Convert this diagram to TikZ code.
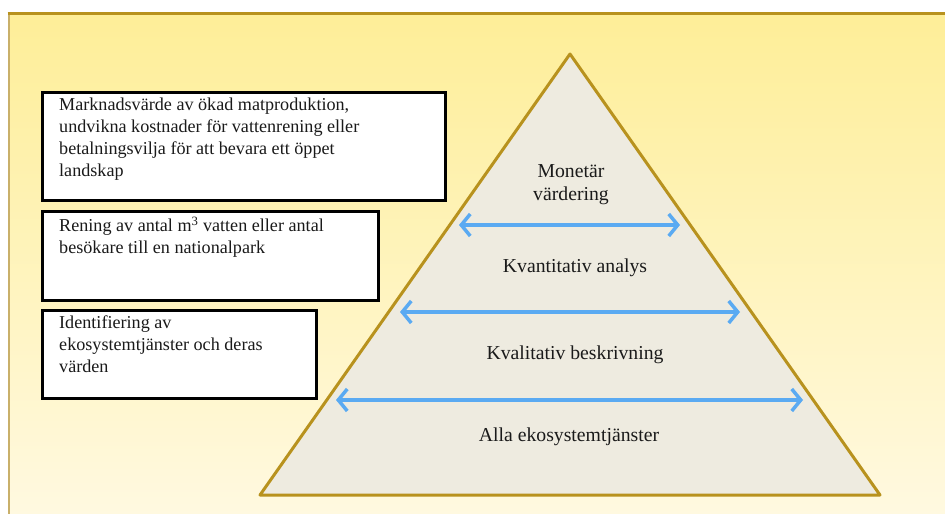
\documentclass[tikz,border=0pt]{standalone}
\usepackage{fontspec}
\setmainfont{Liberation Serif}
\usetikzlibrary{arrows.meta}
\definecolor{bgtop}{HTML}{FEEE98}
\definecolor{bgbot}{HTML}{FFF9E0}
\definecolor{gold}{HTML}{B8921E}
\definecolor{goldlight}{HTML}{C9B06A}
\definecolor{pyrfill}{HTML}{EEEBE0}
\definecolor{arrowblue}{HTML}{5AAAF2}
\definecolor{inktext}{HTML}{1A1A1A}
\tikzset{
  infotext/.style={anchor=north west, align=left, inner sep=0pt, text=inktext, font=\fontsize{18.2}{22}\selectfont},
  pyrlabel/.style={align=center, inner sep=0pt, text=inktext, font=\fontsize{19.8}{23}\selectfont},
  levelarrow/.style={draw=arrowblue, line width=3.5bp, line cap=round,
    {Straight Barb[length=9bp,width=22bp,line width=3.5bp]}-{Straight Barb[length=9bp,width=22bp,line width=3.5bp]}}
}
\begin{document}
\begin{tikzpicture}[x=1bp,y=-1bp]
\useasboundingbox (0,0) rectangle (945,514);
\fill[white] (0,0) rectangle (945,514);
% background panel
\shade[top color=bgtop, bottom color=bgbot] (8,14) rectangle (945,514);
\draw[goldlight, line width=2bp] (8.5,14) -- (8.5,514);
\draw[gold, line width=3bp] (7.5,13.5) -- (945,13.5);
% pyramid
\coordinate (apex) at (570,54);
\coordinate (bl) at (260,495);
\coordinate (br) at (880,495);
\filldraw[fill=pyrfill, draw=gold, line width=3bp, line join=round] (apex) -- (bl) -- (br) -- cycle;
% level arrows
\coordinate (a1l) at (459,225); \coordinate (a1r) at (680,225);
\coordinate (a2l) at (400,312); \coordinate (a2r) at (740,312);
\coordinate (a3l) at (336,400); \coordinate (a3r) at (803,400);
\draw[levelarrow] (a1l) -- (a1r);
\draw[levelarrow] (a2l) -- (a2r);
\draw[levelarrow] (a3l) -- (a3r);
% pyramid labels
\node[pyrlabel] (l1) at (571,185) {Monetär\\värdering};
\node[pyrlabel] (l2) at (575,268) {Kvantitativ analys};
\node[pyrlabel] (l3) at (575,355) {Kvalitativ beskrivning};
\node[pyrlabel] (l4) at (569,437) {Alla ekosystemtjänster};
% left boxes
\draw[draw=black, line width=3bp, fill=white] (42,93) rectangle (445,201);
\draw[draw=black, line width=3bp, fill=white] (42,212) rectangle (378,301);
\draw[draw=black, line width=3bp, fill=white] (42,311) rectangle (316,398);
\node[infotext] (t1) at (59,98) {Marknadsvärde av ökad matproduktion,\\undvikna kostnader för vattenrening eller\\betalningsvilja för att bevara ett öppet\\landskap};
\node[infotext] (t2) at (59,217) {Rening av antal m\textsuperscript{3} vatten eller antal\\besökare till en nationalpark};
\node[infotext] (t3) at (59,316) {Identifiering av\\ekosystemtjänster och deras\\värden};
\end{tikzpicture}
\end{document}
